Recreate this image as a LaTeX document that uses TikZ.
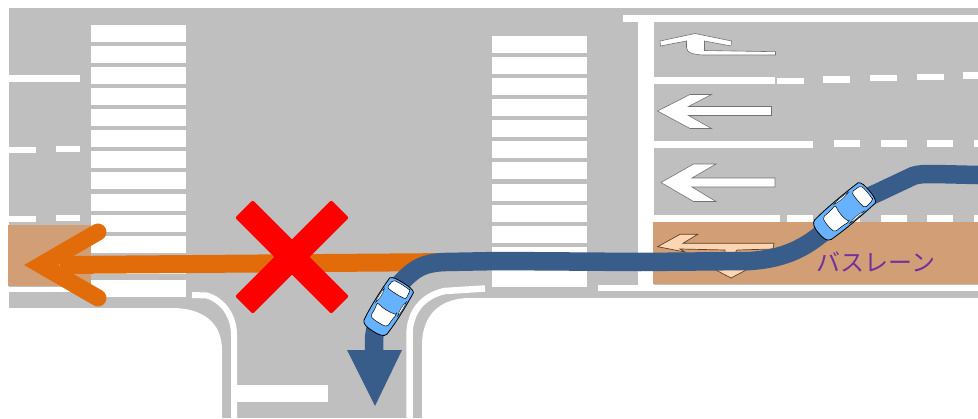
\documentclass[tikz,border=0pt]{standalone}
\usepackage{fontspec}
\newfontfamily\jpfont{Noto Sans CJK JP}
\usetikzlibrary{arrows.meta, positioning}
\definecolor{cRoad}{RGB}{191,191,191}
\definecolor{cBus}{RGB}{210,158,118}
\definecolor{cPeach}{RGB}{252,213,181}
\definecolor{cRoute}{RGB}{56,93,138}
\definecolor{cWrong}{RGB}{227,108,10}
\definecolor{cCar}{RGB}{102,178,255}
\definecolor{cLabel}{RGB}{112,48,160}
\tikzset{
  paint/.style={fill=white, draw=none},
  curb/.style={draw=white, line width=6pt},
  roadmark/.style={fill=white, draw=black!55, line width=0.6pt},
  route/.style={draw=cRoute, line width=18.5pt, line join=round},
  crossbar/.style={rectangle, fill=red, rounded corners=2pt, minimum width=136pt, minimum height=25pt, inner sep=0pt},
  pics/carbody/.style={code={
    \draw[fill=cCar, draw=black, line width=0.8pt] (-27,-14) .. controls (-10,-15) and (10,-15) .. (25,-13.5) .. controls (29,-12) and (30,-8) .. (30,0) .. controls (30,8) and (29,12) .. (25,13.5) .. controls (10,15) and (-10,15) .. (-27,14) .. controls (-29.5,12) and (-30,8) .. (-30,0) .. controls (-30,-8) and (-29.5,-12) .. (-27,-14) -- cycle;
    \draw[fill=white, draw=black, line width=0.5pt, rounded corners=2pt] (2,-11.5) .. controls (8,-10) and (14,-10) .. (18,-10) .. controls (19.5,-4) and (19.5,4) .. (18,10) .. controls (14,10) and (8,10) .. (2,11.5) .. controls (4,4) and (4,-4) .. (2,-11.5) -- cycle;
    \draw[fill=white, draw=black, line width=0.5pt, rounded corners=2pt] (-27,-10) -- (-17,-11) .. controls (-16,-4) and (-16,4) .. (-17,11) -- (-27,10) .. controls (-28,4) and (-28,-4) .. (-27,-10) -- cycle;
    \draw[fill=white, draw=black, line width=0.3pt] (-15,-13) .. controls (-8,-14) and (-2,-14) .. (3,-13) .. controls (-3,-11.5) and (-9,-11) .. (-15,-13) -- cycle;
    \draw[fill=white, draw=black, line width=0.3pt] (-15,13) .. controls (-8,14) and (-2,14) .. (3,13) .. controls (-3,11.5) and (-9,11) .. (-15,13) -- cycle;
  }}
}
\begin{document}
\begin{tikzpicture}[x=1pt, y=-1pt]
  \useasboundingbox (0,0) rectangle (978,418);
  % road
  \fill[cRoad] (9,8) rectangle (978,418);
  \path[paint] (0,308) -- (172,308) .. controls (202,308) and (222,322) .. (222,350) -- (222,418) -- (0,418) -- cycle;
  \path[paint] (422,418) -- (422,345) .. controls (422,315) and (440,298) .. (470,298) -- (978,298) -- (978,418) -- cycle;
  \draw[curb] (192,295) -- (207,295.5) .. controls (222,300) and (234,315) .. (234,335) -- (234,418);
  \draw[curb, line width=6.5pt] (485,288.5) -- (445,291) .. controls (425,295) and (409.5,310) .. (409.5,335) -- (409.5,418);
  \path[paint] (237,385) rectangle (328,402);
  % crosswalks
  \foreach \y in {25,46,67,88,109,130,151,172,194,215,236,257,280}
    \path[paint] (91,\y) rectangle (186,\y+17);
  \foreach \y in {36,57,78,99,120,141,162,184,205,226,247,270}
    \path[paint] (492,\y) rectangle (587,\y+17);
  % left lanes
  \path[paint] (9,75) rectangle (80,82);
  \path[paint] (9,146.5) rectangle (36,152.5);
  \path[paint] (56,145.5) rectangle (80,151.5);
  \path[paint] (9,216) rectangle (36,222);
  \path[paint] (56,215) rectangle (80,221);
  \path[paint] (9,287) rectangle (92,292);
  % right lanes
  \path[paint] (623,15) rectangle (978,22);
  \path[paint] (638,15) rectangle (654,291);
  \path[paint] (598,285) rectangle (978,291);
  \path[paint] (654,77) rectangle (775,83.5);
  \foreach \x/\y in {777/77.5,823/76,870/74.7,917/73.5,963/72.3}
    \path[paint] (\x,\y) rectangle (\x+27,\y+6.5);
  \path[paint] (654,141) rectangle (813,147.5);
  \foreach \x in {834,881,927,974}
    \path[paint] (\x,140) rectangle (\x+26,146.5);
  \path[paint] (654,215) rectangle (780,221.5);
  \foreach \x in {787,834,881,927,974}
    \path[paint] (\x,215) rectangle (\x+26,221.5);
  % road arrows
  \draw[roadmark] (660,41) -- (695,33.5) -- (731.5,41) -- (731,46) -- (704.5,41) -- (704.5,50.5) -- (775.5,51.7) -- (775.5,55) -- (705,55) .. controls (695,55) and (686.5,53) .. (686.5,48) -- (686.5,41) -- (660.5,46) -- cycle;
  \draw[roadmark] (657.5,111) -- (690,94.5) -- (711.5,94.5) -- (688.5,106.5) -- (771.5,106.5) -- (771.5,115.5) -- (688.5,115.5) -- (711.5,128.5) -- (690,128.5) -- cycle;
  \draw[roadmark] (661,182.5) -- (693.5,164) -- (716,164) -- (692,178) -- (775,178) -- (775,187) -- (692,187) -- (716,201.5) -- (693.5,201.5) -- cycle;
  % bus lane
  \fill[cBus] (8,225) rectangle (91,286);
  \fill[cBus] (653,221.5) rectangle (978,284);
  \draw[fill=cPeach, draw=black!50!brown, line width=0.7pt] (657.7,246.7) -- (680,234.3) -- (697.7,234.3) -- (683,243.3) -- (774,243.3) -- (773,249) -- (737,250) -- (733,256) -- (750,268) -- (731,278) -- (712,268) -- (725,256) -- (725,250) -- (680,249) -- (685,252) -- cycle;
  % wrong way
  \draw[draw=cWrong, line width=18pt] (455,262) -- (60,265);
  \draw[draw=cWrong, line width=17pt, line cap=round, miter limit=10] (98,232) -- (41,265) -- (98,298);
  \node[crossbar, rotate=45] (crossa) at (292,257) {};
  \node[crossbar, rotate=-45] (crossb) at (292,257) {};
  % route
  \draw[route] (978,175) -- (935,174) .. controls (925,174) and (918,174) .. (913,176) -- (877,193) .. controls (860,200) and (850,212) .. (835,222) .. controls (815,240) and (795,258) .. (750,261) -- (640,262) -- (500,261) -- (445,262) .. controls (415,263) and (410,275) .. (395,288) .. controls (385,305) and (375,320) .. (374,340) -- (374,352);
  \fill[cRoute] (347,350) -- (402,350) -- (375,406) -- cycle;
  % cars
  \pic[rotate=238, xscale=0.95] (carturn) at (388,307) {carbody};
  \pic[rotate=220, xscale=1.1, yscale=0.95] (carlane) at (844,212) {carbody};
  \node[font=\jpfont, text=cLabel, inner sep=0pt] (buslabel) at (876,262) {\fontsize{24pt}{24pt}\selectfont バスレーン};
\end{tikzpicture}
\end{document}
